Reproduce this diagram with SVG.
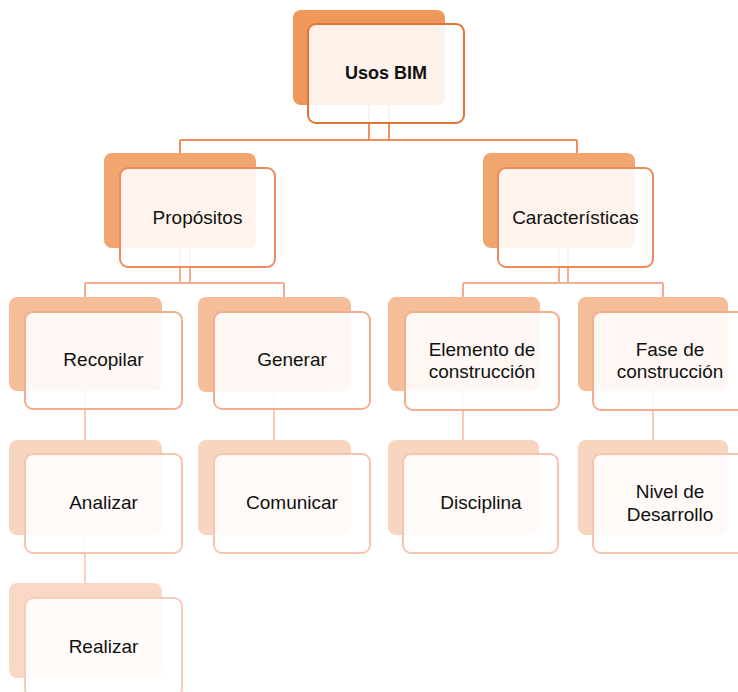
<svg xmlns="http://www.w3.org/2000/svg" width="738" height="692" viewBox="0 0 738 692">
  <style>
    .lbl { font-family: "Liberation Sans", Arial, sans-serif; font-size: 19px; fill: #111; text-anchor: middle; }
    .bold { font-weight: bold; font-size: 18px; }
    .front { fill: #fff; fill-opacity: 0.88; stroke-width: 2; }
    .conn { fill: none; stroke-width: 2; }
    .l0 .back { fill: #F0975A; } .l0 .front { stroke: #E27333; }
    .l1 .back { fill: #F2A66F; } .l1 .front { stroke: #EE8A5C; }
    .l2 .back { fill: #F5BD98; } .l2 .front { stroke: #F4AD8F; }
    .l3 .back { fill: #F8D5BE; } .l3 .front { stroke: #F7C4AE; }
    .l4 .back { fill: #F9D9C6; } .l4 .front { stroke: #F8CCBA; }
    .c0 { stroke: #EE8F5C; } .c1 { stroke: #F3AE90; } .c2 { stroke: #F7CAB6; } .c3 { stroke: #F8D2C1; }
  </style>

  <!-- connectors, drawn beneath the node cards -->
  <g id="connectors">
    <path class="conn c0" d="M369,105 V140 M389,105 V140 M180,140 H577 M180,140 V154 M577,140 V154"/>
    <path class="conn c1" d="M180,248 V283 M190,248 V283 M85,283 H284 M85,283 V298 M284,283 V298"/>
    <path class="conn c1" d="M559,248 V283 M568,248 V283 M463,283 H663 M463,283 V298 M663,283 V298"/>
    <path class="conn c2" d="M85,391 V441 M274,392 V441 M463,391 V441 M653,391 V441"/>
    <path class="conn c3" d="M85,535 V584"/>
  </g>

  <g id="usos-bim" class="l0">
    <rect class="back" x="293" y="10" width="152" height="95" rx="8"/>
    <rect class="front" x="308" y="24" width="156" height="99" rx="8"/>
    <text class="lbl bold" x="386" y="79">Usos BIM</text>
  </g>

  <g id="propositos" class="l1">
    <rect class="back" x="104" y="153" width="152" height="95" rx="8"/>
    <rect class="front" x="120" y="168" width="155" height="99" rx="8"/>
    <text class="lbl" x="197.5" y="224">Propósitos</text>
  </g>

  <g id="caracteristicas" class="l1">
    <rect class="back" x="483" y="153" width="152" height="95" rx="8"/>
    <rect class="front" x="498" y="168" width="155" height="99" rx="8"/>
    <text class="lbl" x="575.5" y="224">Características</text>
  </g>

  <g id="recopilar" class="l2">
    <rect class="back" x="9" y="297" width="153" height="94" rx="8"/>
    <rect class="front" x="25" y="312" width="157" height="97" rx="8"/>
    <text class="lbl" x="103.5" y="366">Recopilar</text>
  </g>

  <g id="generar" class="l2">
    <rect class="back" x="198" y="297" width="153" height="95" rx="8"/>
    <rect class="front" x="214" y="312" width="156" height="97" rx="8"/>
    <text class="lbl" x="292" y="366">Generar</text>
  </g>

  <g id="elemento" class="l2">
    <rect class="back" x="388" y="297" width="152" height="94" rx="8"/>
    <rect class="front" x="405" y="312" width="154" height="98" rx="8"/>
    <text class="lbl" x="482" y="356">Elemento de</text>
    <text class="lbl" x="482" y="378">construcción</text>
  </g>

  <g id="fase" class="l2">
    <rect class="back" x="578" y="297" width="150" height="94" rx="8"/>
    <rect class="front" x="593" y="312" width="154" height="98" rx="8"/>
    <text class="lbl" x="670" y="356">Fase de</text>
    <text class="lbl" x="670" y="378">construcción</text>
  </g>

  <g id="analizar" class="l3">
    <rect class="back" x="9" y="440" width="153" height="95" rx="8"/>
    <rect class="front" x="25" y="454" width="157" height="99" rx="8"/>
    <text class="lbl" x="103.5" y="509">Analizar</text>
  </g>

  <g id="comunicar" class="l3">
    <rect class="back" x="198" y="440" width="153" height="95" rx="8"/>
    <rect class="front" x="214" y="454" width="156" height="99" rx="8"/>
    <text class="lbl" x="292" y="509">Comunicar</text>
  </g>

  <g id="disciplina" class="l3">
    <rect class="back" x="388" y="440" width="151" height="95" rx="8"/>
    <rect class="front" x="403" y="454" width="155" height="99" rx="8"/>
    <text class="lbl" x="481" y="509">Disciplina</text>
  </g>

  <g id="nivel" class="l3">
    <rect class="back" x="578" y="440" width="150" height="95" rx="8"/>
    <rect class="front" x="593" y="454" width="154" height="99" rx="8"/>
    <text class="lbl" x="670" y="498">Nivel de</text>
    <text class="lbl" x="670" y="521">Desarrollo</text>
  </g>

  <g id="realizar" class="l4">
    <rect class="back" x="9" y="583" width="153" height="95" rx="8"/>
    <rect class="front" x="25" y="598" width="157" height="99" rx="8"/>
    <text class="lbl" x="103.5" y="653">Realizar</text>
  </g>
</svg>
